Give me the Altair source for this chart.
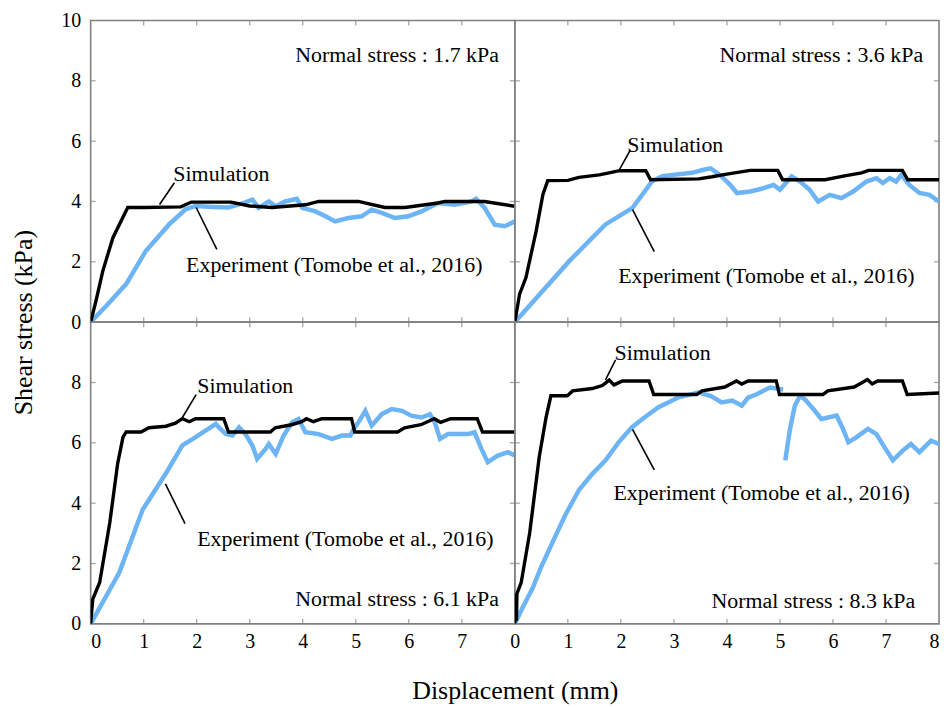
import altair as alt
import pandas as pd

W, H = 426, 303
BLUE = "#6cb4f4"
GRAY = "#808080"
FONT = "Liberation Serif"

# ---------------- data ----------------
# Panel 1: normal stress 1.7 kPa
p1_sim_x = [0, 0.1, 0.23, 0.42, 0.7, 1.0, 1.7, 1.9, 2.65, 3.0, 3.42, 4.05, 4.3, 5.05, 5.55, 5.93, 6.55, 6.68, 7.43, 8.0]
p1_sim_y = [0, 0.7, 1.7, 2.8, 3.8, 3.8, 3.82, 3.98, 3.98, 3.85, 3.8, 3.89, 4.0, 4.0, 3.8, 3.8, 3.95, 4.0, 4.0, 3.84]
p1_exp_x = [0, 0.3, 0.67, 1.04, 1.48, 1.79, 1.98, 2.3, 2.6, 2.8, 3.05, 3.17, 3.36, 3.49, 3.67, 3.89, 3.99, 4.24, 4.43, 4.61, 4.86, 5.11, 5.3, 5.49, 5.74, 5.99, 6.24, 6.55, 6.87, 7.18, 7.27, 7.43, 7.62, 7.81, 8.0]
p1_exp_y = [0, 0.55, 1.26, 2.36, 3.24, 3.74, 3.85, 3.82, 3.8, 3.9, 4.06, 3.79, 4.0, 3.84, 4.0, 4.09, 3.79, 3.67, 3.51, 3.34, 3.45, 3.51, 3.73, 3.62, 3.45, 3.51, 3.67, 3.95, 3.89, 4.0, 4.09, 3.79, 3.23, 3.18, 3.34]

# Panel 2: normal stress 3.6 kPa
p2_sim_x = [0, 0.09, 0.21, 0.4, 0.53, 0.62, 1.0, 1.21, 1.59, 1.78, 1.97, 2.47, 2.56, 3.47, 3.72, 3.97, 4.44, 4.96, 5.05, 5.85, 6.22, 6.54, 6.67, 7.31, 7.41, 8.0]
p2_sim_y = [0, 0.93, 1.48, 3.0, 4.23, 4.69, 4.7, 4.8, 4.88, 4.95, 5.02, 5.02, 4.72, 4.75, 4.82, 4.9, 5.03, 5.03, 4.72, 4.72, 4.85, 4.95, 5.03, 5.03, 4.72, 4.72]
p2_exp_x = [0, 1.03, 1.71, 2.22, 2.59, 2.78, 3.34, 3.56, 3.69, 3.87, 4.06, 4.19, 4.44, 4.69, 4.88, 5.0, 5.22, 5.38, 5.56, 5.72, 5.94, 6.16, 6.38, 6.63, 6.82, 6.94, 7.07, 7.19, 7.29, 7.44, 7.63, 7.82, 8.0]
p2_exp_y = [0, 2.03, 3.24, 3.79, 4.67, 4.84, 4.95, 5.05, 5.1, 4.88, 4.55, 4.28, 4.33, 4.44, 4.55, 4.39, 4.83, 4.66, 4.39, 4.0, 4.22, 4.11, 4.33, 4.66, 4.77, 4.61, 4.77, 4.66, 4.88, 4.55, 4.28, 4.22, 4.0]

# Panel 3: normal stress 6.1 kPa
p3_sim_x = [0, 0.04, 0.17, 0.36, 0.51, 0.61, 0.67, 0.95, 1.1, 1.42, 1.6, 1.73, 1.86, 1.98, 2.51, 2.6, 3.39, 3.48, 3.79, 3.98, 4.07, 4.2, 4.36, 4.92, 4.98, 5.79, 5.92, 6.23, 6.48, 6.6, 6.79, 7.29, 7.39, 8.0]
p3_sim_y = [0, 0.82, 1.37, 3.34, 5.32, 6.19, 6.36, 6.36, 6.5, 6.55, 6.65, 6.8, 6.7, 6.8, 6.8, 6.36, 6.36, 6.5, 6.6, 6.7, 6.8, 6.7, 6.8, 6.8, 6.36, 6.36, 6.5, 6.6, 6.8, 6.68, 6.8, 6.8, 6.36, 6.36]
p3_exp_x = [0, 0.54, 0.98, 1.42, 1.73, 1.98, 2.36, 2.42, 2.55, 2.67, 2.8, 2.92, 3.05, 3.14, 3.3, 3.36, 3.49, 3.64, 3.8, 3.92, 4.05, 4.3, 4.55, 4.74, 4.9, 4.96, 5.05, 5.18, 5.3, 5.49, 5.68, 5.87, 6.05, 6.24, 6.4, 6.49, 6.59, 6.74, 6.93, 7.12, 7.24, 7.37, 7.49, 7.68, 7.87, 8.0]
p3_exp_y = [0, 1.7, 3.78, 4.99, 5.92, 6.19, 6.63, 6.51, 6.29, 6.24, 6.51, 6.29, 5.91, 5.47, 5.8, 5.96, 5.63, 6.24, 6.68, 6.79, 6.35, 6.29, 6.13, 6.24, 6.24, 6.46, 6.68, 7.06, 6.57, 6.95, 7.12, 7.06, 6.9, 6.84, 6.95, 6.68, 6.13, 6.29, 6.29, 6.29, 6.35, 5.8, 5.36, 5.58, 5.69, 5.58]

# Panel 4: normal stress 8.3 kPa
p4_sim_x = [0, 0, 0.03, 0.04, 0.12, 0.28, 0.46, 0.59, 0.68, 0.99, 1.09, 1.46, 1.65, 1.78, 1.87, 2.03, 2.53, 2.62, 3.43, 3.53, 3.96, 4.18, 4.28, 4.4, 4.93, 4.99, 5.81, 5.9, 6.4, 6.65, 6.74, 6.84, 7.31, 7.4, 8.0]
p4_sim_y = [0, 1.0, 0.1, 1.0, 1.37, 3.01, 5.53, 6.85, 7.56, 7.56, 7.72, 7.8, 7.9, 8.08, 7.92, 8.05, 8.05, 7.6, 7.6, 7.72, 7.85, 8.05, 7.95, 8.05, 8.05, 7.6, 7.6, 7.72, 7.85, 8.1, 7.95, 8.05, 8.05, 7.6, 7.65]
p4_exp_a_x = [0, 0.15, 0.34, 0.5, 0.71, 0.95, 1.21, 1.45, 1.71, 1.95, 2.21, 2.45, 2.71, 3.09, 3.46, 3.7, 3.9, 4.1, 4.28, 4.4, 4.56, 4.81, 5.06]
p4_exp_a_y = [0, 0.55, 1.2, 1.9, 2.7, 3.6, 4.44, 4.95, 5.42, 6.0, 6.52, 6.85, 7.18, 7.51, 7.67, 7.55, 7.34, 7.4, 7.23, 7.5, 7.61, 7.83, 7.77]
p4_exp_b_x = [5.1, 5.19, 5.28, 5.38, 5.47, 5.63, 5.78, 5.91, 6.07, 6.19, 6.29, 6.44, 6.66, 6.82, 6.97, 7.13, 7.32, 7.47, 7.63, 7.85, 8.0]
p4_exp_b_y = [5.42, 6.46, 7.23, 7.56, 7.44, 7.12, 6.79, 6.84, 6.9, 6.46, 6.02, 6.18, 6.46, 6.29, 5.86, 5.42, 5.75, 5.96, 5.69, 6.07, 5.96]

# annotation anchors (data units)
p_normal = ["Normal stress : 1.7 kPa", "Normal stress : 3.6 kPa", "Normal stress : 6.1 kPa", "Normal stress : 8.3 kPa"]
p_normal_xy = [(7.7, 8.84), (7.7, 8.84), (7.7, 0.82), (7.55, 0.76)]
p_sim_lab_xy = [(1.56, 4.9), (2.12, 5.87), (2.01, 7.89), (1.88, 8.98)]
p_exp_lab_xy = [(1.8, 1.88), (1.95, 1.52), (2.01, 2.8), (1.86, 4.34)]
p_sim_lead = [(1.3, 3.9, 1.58, 4.62), (1.97, 5.05, 2.18, 5.71), (1.73, 6.84, 1.99, 7.6), (1.71, 8.09, 1.9, 8.75)]
p_exp_lead = [(1.99, 3.8, 2.38, 2.41), (2.22, 3.73, 2.63, 2.34), (1.41, 4.64, 1.78, 3.32), (2.22, 6.45, 2.63, 5.1)]

x_ticks = [1, 2, 3, 4, 5, 6, 7]
y_ticks = [2, 4, 6, 8]


def make_panel(k, sim_x, sim_y, exp_segs, show_x, x_vals, show_y, y_vals, y_title=None, x_title=None, last_right=False):
    xscale = alt.Scale(domain=[0, 8], nice=False, zero=False)
    yscale = alt.Scale(domain=[0, 10], nice=False, zero=False)
    if show_x:
        kw = dict(values=x_vals, tickSize=0, domain=False, grid=False, labelPadding=8,
                  labelFontSize=20, format="d")
        if x_title:
            kw.update(title=x_title, titleX=W, titlePadding=26, titleFontSize=26)
        else:
            kw.update(title=None)
        if last_right:
            kw.update(labelAlign=alt.condition("datum.value == 8", alt.value("right"), alt.value("center")))
        xax = alt.Axis(**kw)
    else:
        xax = None
    if show_y:
        kw = dict(values=y_vals, tickSize=0, domain=False, grid=False, labelPadding=10,
                  labelFontSize=20, format="d")
        if y_title:
            kw.update(title=y_title, titleY=H, titlePadding=24, titleFontSize=26)
        else:
            kw.update(title=None)
        yax = alt.Axis(**kw)
    else:
        yax = None
    X = alt.X("x:Q", scale=xscale, axis=xax)
    Y = alt.Y("y:Q", scale=yscale, axis=yax)

    sim_df = pd.DataFrame({"x": sim_x, "y": sim_y, "i": list(range(len(sim_x)))})
    rows = []
    for s, (sx, sy) in enumerate(exp_segs):
        for i, (a, b) in enumerate(zip(sx, sy)):
            rows.append({"x": a, "y": b, "seg": s, "i": i})
    exp_df = pd.DataFrame(rows)

    exp = alt.Chart(exp_df).mark_line(color=BLUE, strokeWidth=4.5, clip=True).encode(
        x=X, y=Y, detail="seg:N", order="i:Q")
    sim = alt.Chart(sim_df).mark_line(color="black", strokeWidth=3.4, clip=True).encode(
        x=X, y=Y, order="i:Q")

    lead_df = pd.DataFrame([
        {"x": p_sim_lead[k][0], "y": p_sim_lead[k][1], "x2": p_sim_lead[k][2], "y2": p_sim_lead[k][3]},
        {"x": p_exp_lead[k][0], "y": p_exp_lead[k][1], "x2": p_exp_lead[k][2], "y2": p_exp_lead[k][3]},
    ])
    leads = alt.Chart(lead_df).mark_rule(color="black", strokeWidth=1.6).encode(
        x=X, y=Y, x2="x2:Q", y2="y2:Q")

    lab_df = pd.DataFrame([
        {"x": p_sim_lab_xy[k][0], "y": p_sim_lab_xy[k][1], "label": "Simulation"},
        {"x": p_exp_lab_xy[k][0], "y": p_exp_lab_xy[k][1], "label": "Experiment (Tomobe et al., 2016)"},
    ])
    labs = alt.Chart(lab_df).mark_text(align="left", baseline="middle", font=FONT, fontSize=22,
                                       color="black").encode(x=X, y=Y, text="label:N")
    norm_df = pd.DataFrame([{"x": p_normal_xy[k][0], "y": p_normal_xy[k][1], "label": p_normal[k]}])
    norm = alt.Chart(norm_df).mark_text(align="right", baseline="middle", font=FONT, fontSize=22,
                                        color="black").encode(x=X, y=Y, text="label:N")

    tick_kw = dict(color=GRAY, thickness=1.3, size=5)
    xt_bot = pd.DataFrame({"x": x_ticks, "y": [0] * len(x_ticks)})
    xt_top = pd.DataFrame({"x": x_ticks, "y": [10] * len(x_ticks)})
    yt_l = pd.DataFrame({"x": [0] * len(y_ticks), "y": y_ticks})
    yt_r = pd.DataFrame({"x": [8] * len(y_ticks), "y": y_ticks})
    t1 = alt.Chart(xt_bot).mark_tick(orient="vertical", yOffset=-2.5, **tick_kw).encode(x=X, y=Y)
    t2 = alt.Chart(xt_top).mark_tick(orient="vertical", yOffset=2.5, **tick_kw).encode(x=X, y=Y)
    t3 = alt.Chart(yt_l).mark_tick(orient="horizontal", xOffset=2.5, **tick_kw).encode(x=X, y=Y)
    t4 = alt.Chart(yt_r).mark_tick(orient="horizontal", xOffset=-2.5, **tick_kw).encode(x=X, y=Y)

    return alt.layer(t1, t2, t3, t4, exp, sim, leads, labs, norm).properties(width=W, height=H)


c1 = make_panel(0, p1_sim_x, p1_sim_y, [(p1_exp_x, p1_exp_y)], False, None, True,
                [0, 2, 4, 6, 8, 10], y_title="Shear stress (kPa)")
c2 = make_panel(1, p2_sim_x, p2_sim_y, [(p2_exp_x, p2_exp_y)], False, None, False, None)
c3 = make_panel(2, p3_sim_x, p3_sim_y, [(p3_exp_x, p3_exp_y)], True, [0, 1, 2, 3, 4, 5, 6, 7], True,
                [0, 2, 4, 6, 8], x_title="Displacement (mm)")
c4 = make_panel(3, p4_sim_x, p4_sim_y, [(p4_exp_a_x, p4_exp_a_y), (p4_exp_b_x, p4_exp_b_y)], True,
                [0, 1, 2, 3, 4, 5, 6, 7, 8], False, None, last_right=True)

chart = alt.concat(c1, c2, c3, c4, columns=2, spacing=0, bounds="flush").properties(
    padding={"left": 2, "top": 0, "right": 0, "bottom": 0}, background="white"
).configure_view(stroke=GRAY, strokeWidth=1.6).configure_axis(
    labelFont=FONT, titleFont=FONT, labelColor="black", titleColor="black", titleFontWeight="normal"
)

chart.save("out.html", embed_options={"renderer": "svg", "actions": False})
